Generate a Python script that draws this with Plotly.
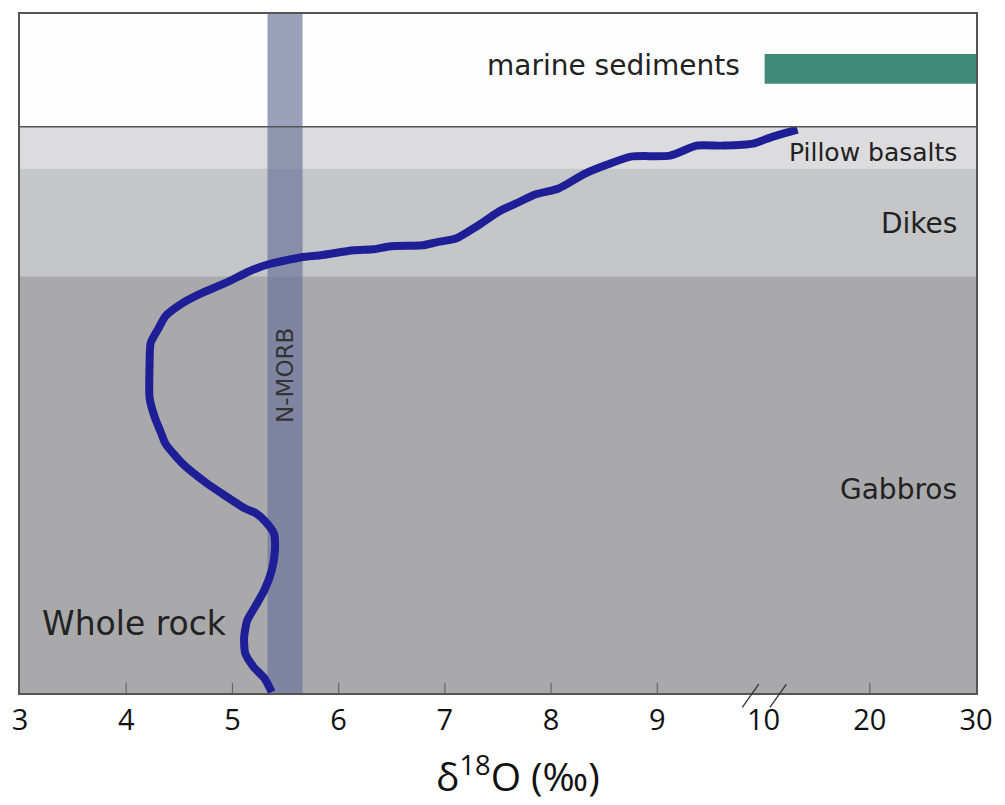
import plotly.graph_objects as go

# Whole-rock oxygen isotope profile through the oceanic crust
# d18O values (permil) and relative depth below the top of the pillow lavas
whole_rock_d18o = [13.2, 10.9, 9.90, 9.62, 9.37, 9.12, 8.75, 8.53, 8.32, 8.07,
                   7.85, 7.67, 7.51, 7.30, 7.11, 6.92, 6.79, 6.49, 6.33, 6.14,
                   5.83, 5.65, 5.34, 5.16, 4.93, 4.69, 4.53, 4.37, 4.30, 4.23,
                   4.22, 4.22, 4.27, 4.32, 4.37, 4.53, 4.75, 4.93, 5.12, 5.21,
                   5.30, 5.39, 5.40, 5.37, 5.30, 5.21, 5.14, 5.11, 5.12, 5.20,
                   5.30, 5.37]
whole_rock_depth = [3, 10, 17, 19, 19, 29, 30, 38, 47, 62,
                    68, 77, 85, 100, 112, 116, 119, 120, 123, 124,
                    129, 131, 138, 145, 157, 168, 177, 190, 203, 217,
                    238, 272, 292, 305, 318, 338, 357, 370, 383, 387,
                    395, 408, 425, 445, 465, 482, 495, 512, 528, 542,
                    553, 567]

# Crustal layers
layer_names = ["Pillow basalts", "Dikes", "Gabbros"]
layer_top = [0, 42, 150]
layer_base = [42, 150, 568]
layer_colors = ["#dcdcde", "#c5c6c8", "#a9a9ab"]

# Reference ranges
nmorb_range = [5.33, 5.66]
sediment_range = [10.1, 30.0]
sediment_depth = [-73, -43]

# Broken x axis: 3..10 linear, then 20 and 30 one unit apart each
tick_values = [3, 4, 5, 6, 7, 8, 9, 10, 20, 30]
tick_labels = ["3", "4", "5", "6", "7", "8", "9", "10", "20", "30"]
tick_marks = [4, 5, 6, 7, 8, 9, 20]

depth_min, depth_max = -113, 568


def to_axis(v):
    return v if v <= 10 else 10 + (v - 10) / 10.0


fig = go.Figure()

shapes = []
for top, base, col in zip(layer_top, layer_base, layer_colors):
    shapes.append(dict(type="rect", xref="x domain", yref="y", x0=0, x1=1,
                       y0=top, y1=base, fillcolor=col, line_width=0, layer="below"))

# N-MORB band
shapes.append(dict(type="rect", xref="x", yref="y", x0=to_axis(nmorb_range[0]),
                   x1=to_axis(nmorb_range[1]), y0=depth_min, y1=depth_max,
                   fillcolor="rgba(107,115,155,0.68)", line_width=0, layer="below"))

# marine sediments bar
shapes.append(dict(type="rect", xref="x", yref="y", x0=to_axis(sediment_range[0]),
                   x1=to_axis(sediment_range[1]), y0=sediment_depth[0], y1=sediment_depth[1],
                   fillcolor="#418a79", line_width=0, layer="above"))

# seafloor line
shapes.append(dict(type="line", xref="x domain", yref="y", x0=0, x1=1, y0=0, y1=0,
                   line=dict(color="#555555", width=1.5), layer="above"))

# inside tick marks
for t in tick_marks:
    shapes.append(dict(type="line", xref="x", yref="y domain", x0=to_axis(t), x1=to_axis(t),
                       y0=0, y1=0.015, line=dict(color="#666666", width=1.2)))

# axis break marks
for xb in [9.80, 10.06]:
    shapes.append(dict(type="line", xref="x", yref="y domain", x0=xb, x1=xb + 0.155,
                       y0=-0.021, y1=0.013, line=dict(color="#333333", width=1.3)))

fig.add_trace(go.Scatter(
    x=[to_axis(v) for v in whole_rock_d18o], y=whole_rock_depth,
    mode="lines", line=dict(color="#1e1e96", width=8, shape="spline", smoothing=0.6),
    hoverinfo="skip", showlegend=False))

text_font = dict(family="DejaVu Sans", color="#222222")
annotations = [
    dict(x=11.84, y=26, text="Pillow basalts", xanchor="right", yanchor="middle",
         font=dict(size=25, **text_font)),
    dict(x=11.84, y=97, text="Dikes", xanchor="right", yanchor="middle",
         font=dict(size=28, **text_font)),
    dict(x=11.84, y=364, text="Gabbros", xanchor="right", yanchor="middle",
         font=dict(size=28, **text_font)),
    dict(x=9.80, y=-61, text="marine sediments", xanchor="right", yanchor="middle",
         font=dict(size=28, **text_font)),
    dict(x=3.19, y=498, text="Whole rock", xanchor="left", yanchor="middle",
         font=dict(size=33, **text_font)),
    dict(x=to_axis(sum(nmorb_range) / 2), y=250, text="N-MORB", textangle=-90,
         xanchor="center", yanchor="middle",
         font=dict(size=23, family="DejaVu Sans", color="#333333")),
    dict(x=7.69, xref="x", y=-0.12, yref="paper", text="δ<sup>18</sup>O (‰)",
         xanchor="center", yanchor="middle",
         font=dict(size=39, family="Open Sans", color="#111111")),
]
for a in annotations:
    a.setdefault("showarrow", False)

fig.update_layout(
    width=1005, height=805,
    margin=dict(l=15, r=20, t=12, b=112),
    paper_bgcolor="white", plot_bgcolor="#fdfdfd",
    shapes=shapes, annotations=annotations,
    xaxis=dict(range=[3, 12], tickmode="array",
               tickvals=[to_axis(v) for v in tick_values], ticktext=tick_labels,
               ticks="", showgrid=False, zeroline=False,
               showline=True, linecolor="#555555", linewidth=1.5, mirror=True,
               tickfont=dict(family="Open Sans", size=29, color="#111111")),
    yaxis=dict(range=[depth_max, depth_min], showticklabels=False, ticks="",
               showgrid=False, zeroline=False,
               showline=True, linecolor="#555555", linewidth=1.5, mirror=True),
)

fig.write_html("out.html")
